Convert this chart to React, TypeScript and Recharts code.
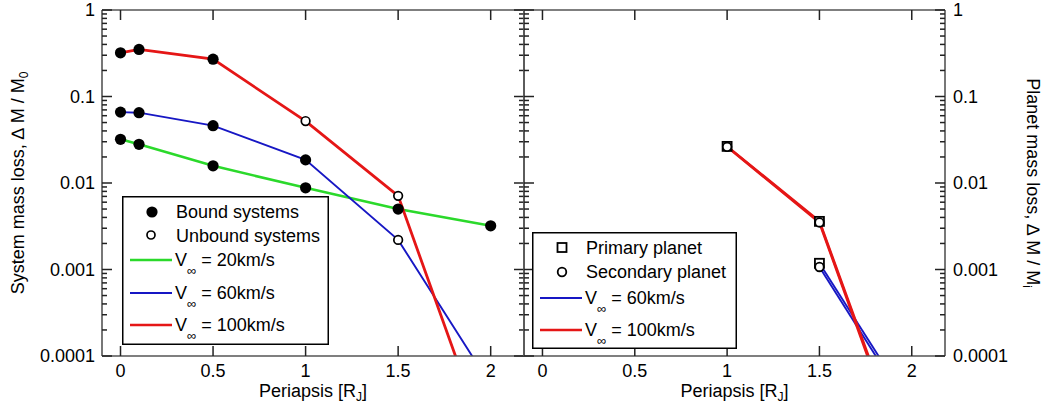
import { LineChart, Line, XAxis, YAxis, Legend } from 'recharts'

const FONT = '"Liberation Sans", Arial, Helvetica, sans-serif'
const GAP = 10
const Y_MIN = 0.0001
const X_DOMAIN: [number, number] = [-0.1, 2.18]
const Y_DOMAIN: [number, number] = [0.0001, 1]
const AXIS = { stroke: '#555', strokeWidth: 1.6 }

const GREEN = '#2bd92b'
const BLUE = '#1717c4'
const RED = '#e51616'

// left panel: whole-system mass loss vs periapsis [R_J]
const periapsis = [0, 0.1, 0.5, 1, 1.5, 2]
const sysLoss20 = [0.032, 0.028, 0.0158, 0.0088, 0.005, 0.0032]
const sysLoss60 = [0.066, 0.065, 0.046, 0.0185, 0.0022, 0.000046]
const sysLoss100 = [0.32, 0.35, 0.27, 0.052, 0.0071, 0.0000073]
const bound20 = [true, true, true, true, true, true]
const bound60 = [true, true, true, true, false, false]
const bound100 = [true, true, true, false, false, false]

// right panel: single-planet mass loss
const planetPeri100 = [1, 1.5, 2]
const primaryLoss100 = [0.0265, 0.0036, 0.0000042]
const secondaryLoss100 = [0.0262, 0.0035, 0.0000038]
const planetPeri60 = [1.5, 2]
const primaryLoss60 = [0.00118, 0.000025]
const secondaryLoss60 = [0.00107, 0.000022]

const speeds = [20, 60, 100]

const xTicks = [0, 0.5, 1, 1.5, 2]
const xTickLabels = ['0', '0.5', '1', '1.5', '2']
const yDecades = [0.0001, 0.001, 0.01, 0.1, 1]
const yTickLabels = ['0.0001', '0.001', '0.01', '0.1', '1']

const yTicks: number[] = []
yDecades.forEach((d, i) => {
  yTicks.push(d)
  if (i < yDecades.length - 1) {
    for (let m = 2; m <= 9; m++) yTicks.push(d * m)
  }
})

const toPoints = (xs: number[], ys: number[], flags?: boolean[]) =>
  xs.map((x, i) => ({ x, loss: ys[i], bound: flags ? flags[i] : false }))

const sys20 = toPoints(periapsis, sysLoss20, bound20)
const sys60 = toPoints(periapsis, sysLoss60, bound60)
const sys100 = toPoints(periapsis, sysLoss100, bound100)
const prim100 = toPoints(planetPeri100, primaryLoss100)
const sec100 = toPoints(planetPeri100, secondaryLoss100)
const prim60 = toPoints(planetPeri60, primaryLoss60)
const sec60 = toPoints(planetPeri60, secondaryLoss60)

// inward ticks; tickSize is 0 so the axis line sits GAP away from (x, y)
function AxisTick(props: any) {
  const { x, y, payload, side, values, labels } = props
  const idx = values.indexOf(payload.value)
  const major = idx >= 0
  const len = major ? 10 : 5
  const px = Number(x)
  const py = Number(y)
  let ax = px
  let ay = py
  let x2 = px
  let y2 = py
  if (side === 'left') {
    ax = px + GAP
    x2 = ax + len
    y2 = ay
  } else if (side === 'right') {
    ax = px - GAP
    x2 = ax - len
    y2 = ay
  } else if (side === 'bottom') {
    ay = py - GAP
    y2 = ay - len
    x2 = ax
  } else {
    ay = py + GAP
    y2 = ay + len
    x2 = ax
  }
  const text = labels && major ? labels[idx] : null
  return (
    <g>
      <path d={`M${ax},${ay}L${x2},${y2}`} stroke="#222" strokeWidth={1.5} fill="none" />
      {text && side === 'left' && (
        <text x={ax - 7} y={ay} dy="0.35em" textAnchor="end" fontFamily={FONT} fontSize={18} fill="#000">
          {text}
        </text>
      )}
      {text && side === 'right' && (
        <text x={ax + 8} y={ay} dy="0.35em" textAnchor="start" fontFamily={FONT} fontSize={18} fill="#000">
          {text}
        </text>
      )}
      {text && side === 'bottom' && (
        <text x={ax} y={ay + 21} textAnchor="middle" fontFamily={FONT} fontSize={18} fill="#000">
          {text}
        </text>
      )}
    </g>
  )
}

function XTitle(props: any) {
  const vb = props.viewBox
  const cx = vb.x + vb.width / 2
  return (
    <text x={cx} y={vb.y + 41} textAnchor="middle" fontFamily={FONT} fontSize={18} fill="#000">
      Periapsis [R
      <tspan dy={4} fontSize={12}>J</tspan>
      <tspan dy={-4} fontSize={18}>]</tspan>
    </text>
  )
}

function YTitle(props: any) {
  const { viewBox: vb, side, text, sub } = props
  const cx = side === 'left' ? vb.x - 12 : vb.x + vb.width - 5
  const cy = vb.y + vb.height / 2
  const rot = side === 'left' ? -90 : 90
  return (
    <text
      x={cx}
      y={cy}
      transform={`rotate(${rot} ${cx} ${cy})`}
      textAnchor="middle"
      dominantBaseline="central"
      fontFamily={FONT}
      fontSize={18}
      fill="#000"
    >
      {text}
      <tspan dy={6} fontSize={12}>{sub}</tspan>
    </text>
  )
}

function SystemDot(props: any) {
  const { cx, cy, payload } = props
  if (cx == null || cy == null || payload.loss < Y_MIN) return null
  if (payload.bound) return <circle cx={cx} cy={cy} r={5.6} fill="#000" />
  return <circle cx={cx} cy={cy} r={4.3} fill="#fff" stroke="#000" strokeWidth={1.7} />
}

function PlanetDot(props: any) {
  const { cx, cy, payload, shape } = props
  if (cx == null || cy == null || payload.loss < Y_MIN) return null
  if (shape === 'square')
    return <rect x={cx - 4.5} y={cy - 4.5} width={9} height={9} fill="#fff" stroke="#000" strokeWidth={1.8} />
  return <circle cx={cx} cy={cy} r={4.3} fill="#fff" stroke="#000" strokeWidth={1.8} />
}

const speedColors = [GREEN, BLUE, RED]

function SpeedLabel({ x, y, v }: { x: number; y: number; v: number }) {
  return (
    <text x={x} y={y} fontFamily={FONT} fontSize={18} fill="#000">
      V
      <tspan dy={9} fontSize={13}>∞</tspan>
      <tspan dy={-9} fontSize={18}>{` = ${v}km/s`}</tspan>
    </text>
  )
}

function SystemLegend() {
  const rows = [64, 97, 129]
  return (
    <svg width={207} height={149} style={{ display: 'block' }}>
      <rect x={0.75} y={0.75} width={205.5} height={147.5} fill="#fff" stroke="#000" strokeWidth={1.5} />
      <circle cx={30} cy={16} r={5.6} fill="#000" />
      <text x={54} y={22} fontFamily={FONT} fontSize={18} fill="#000">Bound systems</text>
      <circle cx={29} cy={39} r={4} fill="#fff" stroke="#000" strokeWidth={1.7} />
      <text x={54} y={46} fontFamily={FONT} fontSize={18} fill="#000">Unbound systems</text>
      {speeds.map((v, i) => (
        <g key={v}>
          <line x1={8} x2={50} y1={rows[i]} y2={rows[i]} stroke={speedColors[i]} strokeWidth={i === 1 ? 2 : 2.5} />
          <SpeedLabel x={53} y={rows[i] + 6} v={v} />
        </g>
      ))}
    </svg>
  )
}

function PlanetLegend() {
  const rows = [66, 98]
  return (
    <svg width={205} height={117} style={{ display: 'block' }}>
      <rect x={0.75} y={0.75} width={203.5} height={115.5} fill="#fff" stroke="#000" strokeWidth={1.5} />
      <rect x={25.5} y={11} width={9} height={9} fill="#fff" stroke="#000" strokeWidth={1.8} />
      <text x={54} y={22} fontFamily={FONT} fontSize={18} fill="#000">Primary planet</text>
      <circle cx={30} cy={40} r={4.3} fill="#fff" stroke="#000" strokeWidth={1.8} />
      <text x={54} y={46} fontFamily={FONT} fontSize={18} fill="#000">Secondary planet</text>
      {speeds.slice(1).map((v, i) => (
        <g key={v}>
          <line x1={8} x2={50} y1={rows[i]} y2={rows[i]} stroke={speedColors[i + 1]} strokeWidth={i === 0 ? 2 : 2.5} />
          <SpeedLabel x={53} y={rows[i] + 6} v={v} />
        </g>
      ))}
    </svg>
  )
}

const commonX = {
  dataKey: 'x',
  type: 'number' as const,
  domain: X_DOMAIN,
  allowDataOverflow: true,
  ticks: xTicks,
  interval: 0 as const,
  tickSize: 0,
  tickMargin: GAP,
  tickLine: false,
  axisLine: AXIS,
}

const commonY = {
  scale: 'log' as const,
  type: 'number' as const,
  domain: Y_DOMAIN,
  allowDataOverflow: true,
  ticks: yTicks,
  interval: 0 as const,
  tickSize: 0,
  tickMargin: GAP,
  tickLine: false,
  axisLine: AXIS,
}

export default function App() {
  return (
    <div style={{ position: 'absolute', left: 0, top: 0, width: 1048, height: 406, background: '#fff' }}>
      <div style={{ position: 'absolute', left: 0, top: 0 }}>
        <LineChart width={534} height={406} margin={{ top: 9, right: 9, bottom: 10, left: 30 }}>
          <XAxis
            {...commonX}
            height={40}
            tick={<AxisTick side="bottom" values={xTicks} labels={xTickLabels} />}
            label={{ content: <XTitle /> }}
          />
          <XAxis {...commonX} xAxisId="top" orientation="top" height={1} tick={<AxisTick side="top" values={xTicks} />} />
          <YAxis
            {...commonY}
            width={72}
            tick={<AxisTick side="left" values={yDecades} labels={yTickLabels} />}
            label={{ content: <YTitle side="left" text="System mass loss, ∆ M / M" sub="0" /> }}
          />
          <YAxis {...commonY} yAxisId="r" orientation="right" width={1} tick={<AxisTick side="right" values={yDecades} />} />
          <Line data={sys20} dataKey="loss" stroke={GREEN} strokeWidth={2.6} dot={false} activeDot={false} isAnimationActive={false} />
          <Line data={sys60} dataKey="loss" stroke={BLUE} strokeWidth={1.9} dot={false} activeDot={false} isAnimationActive={false} />
          <Line data={sys100} dataKey="loss" stroke={RED} strokeWidth={2.8} dot={false} activeDot={false} isAnimationActive={false} />
          <Line data={sys20} dataKey="loss" stroke="none" dot={<SystemDot />} activeDot={false} isAnimationActive={false} />
          <Line data={sys60} dataKey="loss" stroke="none" dot={<SystemDot />} activeDot={false} isAnimationActive={false} />
          <Line data={sys100} dataKey="loss" stroke="none" dot={<SystemDot />} activeDot={false} isAnimationActive={false} />
          <Legend
            layout="vertical"
            align="center"
            verticalAlign="middle"
            content={() => <SystemLegend />}
            wrapperStyle={{ left: 122, top: 196, width: 207, height: 149 }}
          />
        </LineChart>
      </div>
      <div style={{ position: 'absolute', left: 514, top: 0 }}>
        <LineChart width={534} height={406} margin={{ top: 9, right: 10, bottom: 10, left: 9 }}>
          <XAxis
            {...commonX}
            height={40}
            tick={<AxisTick side="bottom" values={xTicks} labels={xTickLabels} />}
            label={{ content: <XTitle /> }}
          />
          <XAxis {...commonX} xAxisId="top" orientation="top" height={1} tick={<AxisTick side="top" values={xTicks} />} />
          <YAxis {...commonY} yAxisId="l" width={1} tick={<AxisTick side="left" values={yDecades} />} />
          <YAxis
            {...commonY}
            orientation="right"
            width={93}
            tick={<AxisTick side="right" values={yDecades} labels={yTickLabels} />}
            label={{ content: <YTitle side="right" text="Planet mass loss, ∆ M / M" sub="i" /> }}
          />
          <Line data={prim60} dataKey="loss" stroke={BLUE} strokeWidth={1.9} dot={false} activeDot={false} isAnimationActive={false} />
          <Line data={sec60} dataKey="loss" stroke={BLUE} strokeWidth={1.9} dot={false} activeDot={false} isAnimationActive={false} />
          <Line data={prim100} dataKey="loss" stroke={RED} strokeWidth={2.6} dot={false} activeDot={false} isAnimationActive={false} />
          <Line data={sec100} dataKey="loss" stroke={RED} strokeWidth={2.6} dot={false} activeDot={false} isAnimationActive={false} />
          <Line data={prim100} dataKey="loss" stroke="none" dot={<PlanetDot shape="square" />} activeDot={false} isAnimationActive={false} />
          <Line data={prim60} dataKey="loss" stroke="none" dot={<PlanetDot shape="square" />} activeDot={false} isAnimationActive={false} />
          <Line data={sec100} dataKey="loss" stroke="none" dot={<PlanetDot shape="circle" />} activeDot={false} isAnimationActive={false} />
          <Line data={sec60} dataKey="loss" stroke="none" dot={<PlanetDot shape="circle" />} activeDot={false} isAnimationActive={false} />
          <Legend
            layout="vertical"
            align="center"
            verticalAlign="middle"
            content={() => <PlanetLegend />}
            wrapperStyle={{ left: 18, top: 232, width: 205, height: 117 }}
          />
        </LineChart>
      </div>
    </div>
  )
}
